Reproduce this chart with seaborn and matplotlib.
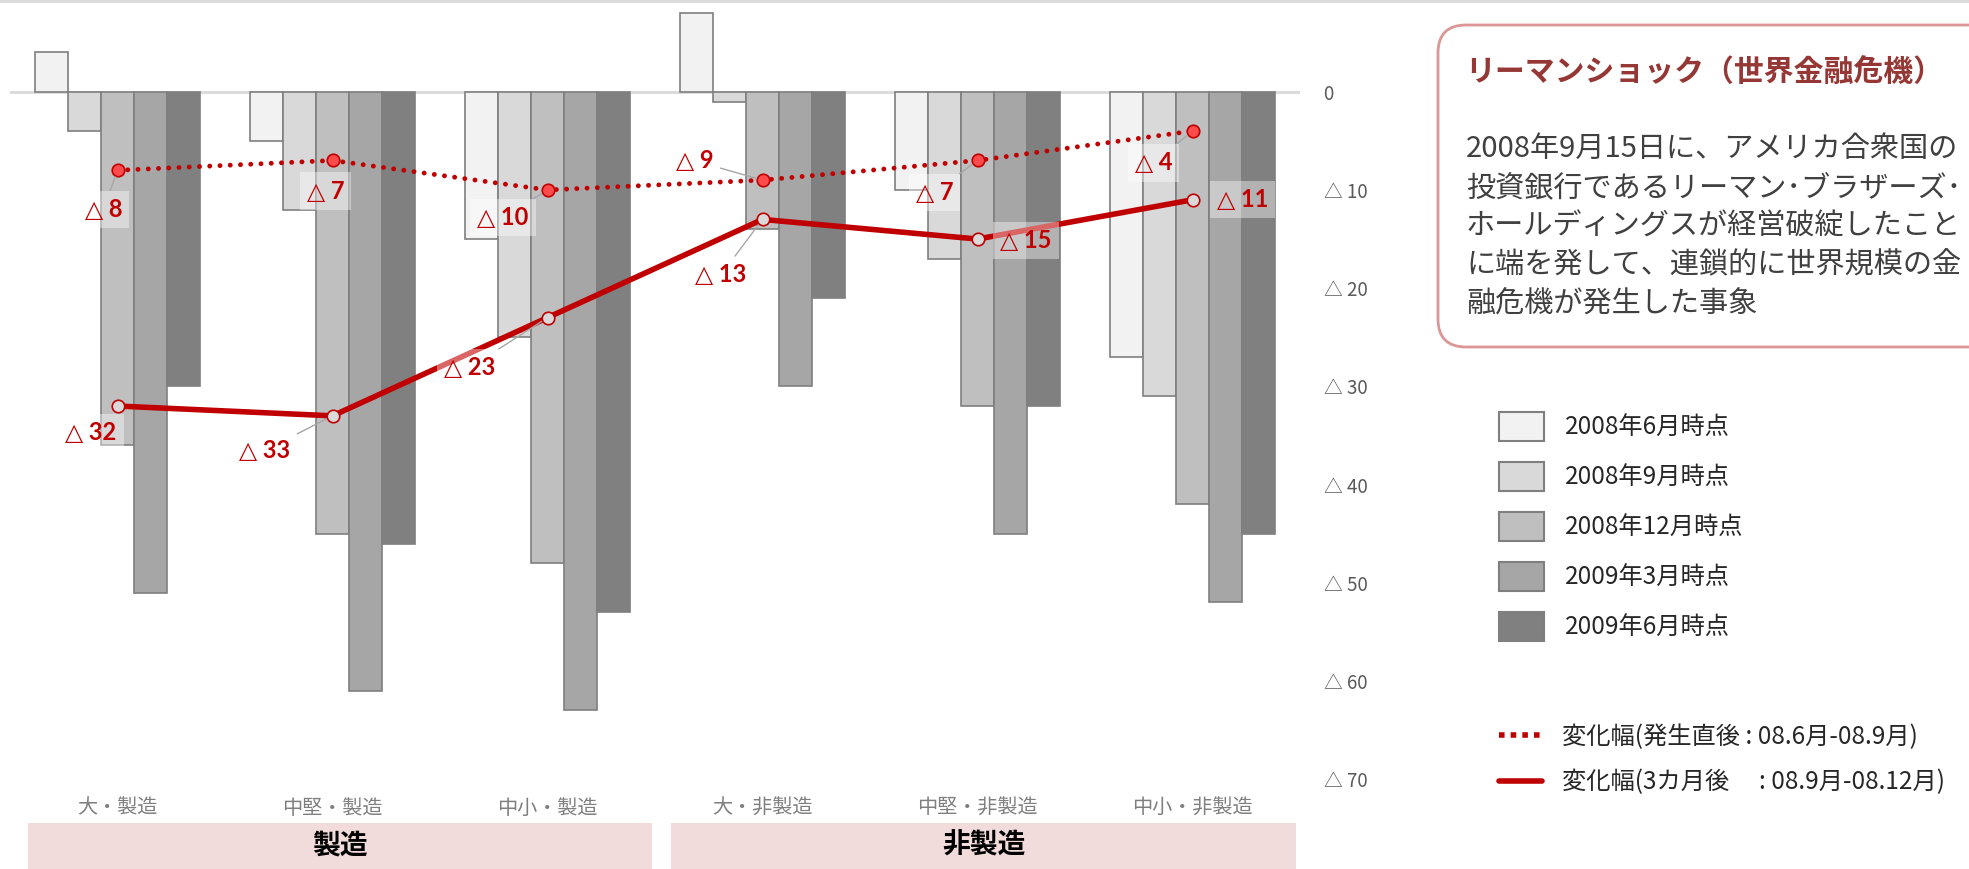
import numpy as np
import pandas as pd
import matplotlib
matplotlib.use('Agg')
import matplotlib.pyplot as plt
import seaborn as sns
from matplotlib.patches import Patch, Rectangle, FancyBboxPatch
from matplotlib.lines import Line2D

# データ（業況判断DI）
categories = ['大・製造', '中堅・製造', '中小・製造', '大・非製造', '中堅・非製造', '中小・非製造']
periods = ['2008年6月時点', '2008年9月時点', '2008年12月時点', '2009年3月時点', '2009年6月時点']
di_2008_06 = [4, -5, -15, 8, -10, -27]
di_2008_09 = [-4, -12, -25, -1, -17, -31]
di_2008_12 = [-36, -45, -48, -14, -32, -42]
di_2009_03 = [-51, -61, -63, -30, -45, -52]
di_2009_06 = [-30, -46, -53, -21, -32, -45]

# 変化幅
change_immediate = [-8, -7, -10, -9, -7, -4]
change_3months = [-32, -33, -23, -13, -15, -11]
line_labels = ['変化幅(発生直後 : 08.6月-08.9月)', '変化幅(3カ月後　 : 08.9月-08.12月)']

sectors = ['製造', '非製造']
y_ticks = [0, -10, -20, -30, -40, -50, -60, -70]
y_tick_labels = ['0', '△ 10', '△ 20', '△ 30', '△ 40', '△ 50', '△ 60', '△ 70']

box_title = 'リーマンショック（世界金融危機）'
box_lines = ['2008年9月15日に、アメリカ合衆国の',
             '投資銀行であるリーマン･ブラザーズ･',
             'ホールディングスが経営破綻したこと',
             'に端を発して、連鎖的に世界規模の金',
             '融危機が発生した事象']

bar_colors = ['#F2F2F2', '#D9D9D9', '#BFBFBF', '#A6A6A6', '#808080']
red = '#C00000'

df = pd.DataFrame({
    'category': categories * 5,
    'period': np.repeat(periods, len(categories)),
    'value': di_2008_06 + di_2008_09 + di_2008_12 + di_2009_03 + di_2009_06,
})

sns.set_style('white')
plt.rcParams['font.family'] = ['Noto Sans CJK JP', 'DejaVu Sans']

W, H = 1969, 869
fig = plt.figure(figsize=(W / 100, H / 100), dpi=100)
ax = fig.add_axes([10 / W, 1 - 792 / H, 1290 / W, 792 / H])

sns.barplot(data=df, x='category', y='value', hue='period', order=categories,
            hue_order=periods, palette=bar_colors, width=0.77, saturation=1,
            edgecolor='#7F7F7F', linewidth=1.2, errorbar=None, legend=False, ax=ax)
ax.axhline(0, color='#D9D9D9', lw=2, zorder=0.5)

xs = np.arange(len(categories))
ax.plot(xs, change_immediate, color=red, lw=3.5, linestyle=(0, (0.01, 2.1)),
        dash_capstyle='round', marker='o', ms=9, mfc='#FF4B4B', mec=red, mew=1.2, zorder=5)
ax.plot(xs, change_3months, color=red, lw=4, marker='o', ms=9,
        mfc='#D9D9D9', mec=red, mew=1.2, zorder=5)

# ラベル位置（offset points）とリーダー線の有無
offs_imm = [(-10, -28), (-5, -22), (-32, -20), (-49, 14), (-31, -23), (-28, -23)]
lead_imm = [True, False, True, True, True, True]
offs_3m = [(-19, -19), (-49, -25), (-56, -36), (-30, -40), (35, -1), (36, 0)]
lead_3m = [False, True, True, True, False, False]

for vals, offs, leads in [(change_immediate, offs_imm, lead_imm), (change_3months, offs_3m, lead_3m)]:
    for i, (v, off, lead) in enumerate(zip(vals, offs, leads)):
        ax.annotate(f'△ {abs(v)}', xy=(i, v), xytext=off, textcoords='offset points',
                    ha='center', va='center', fontsize=17, fontweight='bold', color=red,
                    family=['Lato', 'DejaVu Sans'],
                    bbox=dict(boxstyle='square,pad=0.3', fc='white', ec='none', alpha=0.4),
                    arrowprops=dict(arrowstyle='-', color='#A6A6A6', lw=1, shrinkA=0, shrinkB=5) if lead else None,
                    zorder=6)

ax.set_xlim(-0.5, 5.5)
ax.set_ylim(-71.3, 9.34)
ax.yaxis.tick_right()
ax.set_yticks(y_ticks)
ax.set_yticklabels(y_tick_labels)
ax.tick_params(axis='y', length=0, pad=17, labelsize=13.5, labelcolor='#595959')
ax.tick_params(axis='x', length=0, pad=4, labelsize=14.5, labelcolor='#7F7F7F')
ax.set_xlabel('')
ax.set_ylabel('')
sns.despine(ax=ax, left=True, bottom=True)

# 周辺の装飾（ピクセル座標のオーバーレイ）
ov = fig.add_axes([0, 0, 1, 1])
ov.set_xlim(0, W)
ov.set_ylim(H, 0)
ov.axis('off')
ov.plot([0, W], [1, 1], color='#D9D9D9', lw=2)

for (x0, x1), name in zip([(28, 652), (671, 1296)], sectors):
    ov.add_patch(Rectangle((x0, 823), x1 - x0, 46, fc='#F2DCDB', ec='none'))
    ov.text((x0 + x1) / 2, 846, name, ha='center', va='center', fontsize=20,
            fontweight='bold', color='black')

ov.add_patch(FancyBboxPatch((1438, 25), 700, 322, boxstyle='round,pad=0,rounding_size=28',
                            fc='white', ec='#DC9696', lw=2))
ov.text(1465, 72, box_title, fontsize=21.5, fontweight='bold', color='#953735', va='center')
for k, line in enumerate(box_lines):
    ov.text(1466, 149 + k * 38.8, line, fontsize=21, color='#404040', va='center')

bar_handles = [Patch(fc=c, ec='#7F7F7F', lw=1.5) for c in bar_colors]
fig.legend(handles=bar_handles, labels=periods, loc='upper left', bbox_to_anchor=(1499, 412),
           bbox_transform=ov.transData, frameon=False, fontsize=17.5, handlelength=1.85,
           handleheight=1.44, labelspacing=0.88, handletextpad=0.85, borderpad=0, borderaxespad=0)

line_handles = [Line2D([], [], color=red, lw=4, linestyle=(0, (1, 1.1))),
                Line2D([], [], color=red, lw=4)]
fig.legend(handles=line_handles, labels=line_labels, loc='upper left', bbox_to_anchor=(1499, 724),
           bbox_transform=ov.transData, frameon=False, fontsize=17.5, handlelength=1.75,
           labelspacing=0.8, handletextpad=0.85, borderpad=0, borderaxespad=0)

fig.savefig('out.png', dpi=100)
